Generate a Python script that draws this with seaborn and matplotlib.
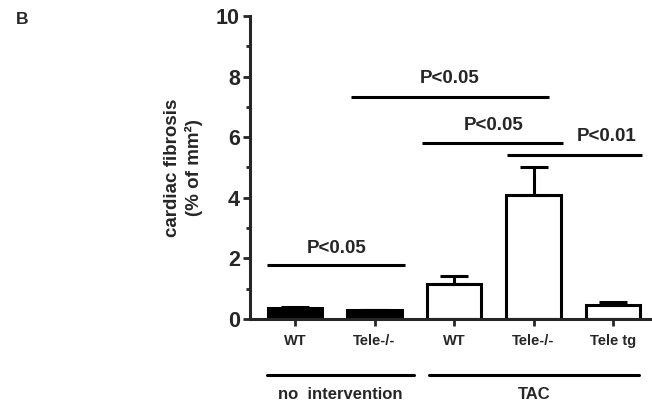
import matplotlib
matplotlib.use("Agg")
import matplotlib.pyplot as plt
from matplotlib.ticker import MultipleLocator
import seaborn as sns
import pandas as pd
import numpy as np

# bar data
groups = ["WT", "Tele-/-", "WT", "Tele-/-", "Tele tg"]
fibrosis = [0.36, 0.28, 1.14, 4.1, 0.46]
sem = [0.04, 0.03, 0.27, 0.93, 0.1]
fill_colors = ["black", "black", "white", "white", "white"]

# significance brackets: (left bar, right bar, height, label, label x, label y)
sig_lines = [
    (-0.35, 1.38, 1.78, "P<0.05", 0.52, 2.05),
    (0.7, 3.2, 7.34, "P<0.05", 1.94, 7.65),
    (1.6, 3.37, 5.8, "P<0.05", 2.5, 6.1),
    (2.66, 4.37, 5.41, "P<0.01", 3.92, 5.75),
]
bottom_groups = [("no  intervention", -0.35, 1.5), ("TAC", 1.69, 4.33)]

sns.set_style("ticks")
plt.rcParams["font.family"] = ["Liberation Sans", "DejaVu Sans"]
plt.rcParams["font.weight"] = "bold"

df = pd.DataFrame({"pos": [str(i) for i in range(len(groups))], "val": fibrosis})

fig = plt.figure(figsize=(6.52, 4.11), dpi=100)
ax = fig.add_axes([0.383, 0.224, 0.617, 0.737])

sns.barplot(data=df, x="pos", y="val", ax=ax, width=0.69,
            palette=fill_colors, hue="pos", legend=False,
            edgecolor="black", linewidth=2.2, saturation=1)

x = np.arange(len(groups))
ax.errorbar(x, fibrosis, yerr=[np.zeros(len(sem)), sem], fmt="none",
            ecolor="black", elinewidth=2.2, capsize=10, capthick=2.2)

ax.set_xlim(-0.57, 4.49)
ax.set_ylim(0, 10)
ax.yaxis.set_major_locator(MultipleLocator(2))
ax.yaxis.set_minor_locator(MultipleLocator(1))
ax.set_xticks(x)
ax.set_xticklabels(groups, fontsize=10.5, fontweight="bold")
ax.tick_params(axis="y", which="major", labelsize=15.5, width=2, length=5, pad=2)
ax.tick_params(axis="y", which="minor", width=2, length=3)
ax.tick_params(axis="x", width=2, length=5, pad=6)
for lbl in ax.get_yticklabels():
    lbl.set_fontweight("bold")
for s in ["left", "bottom"]:
    ax.spines[s].set_linewidth(2.2)
sns.despine(ax=ax)
ax.set_xlabel("")
ax.set_ylabel("cardiac fibrosis\n(% of mm²)", fontsize=13.5, fontweight="bold",
              labelpad=9, linespacing=1.3)

for x0, x1, h, txt, tx, ty in sig_lines:
    ax.plot([x0, x1], [h, h], color="black", lw=2.2, solid_capstyle="butt")
    ax.text(tx, ty, txt, ha="center", va="bottom", fontsize=13.5, fontweight="bold")

for txt, x0, x1 in bottom_groups:
    ax.plot([x0, x1], [-1.86, -1.86], color="black", lw=2.2, clip_on=False)
    ax.text((x0 + x1) / 2, -2.5, txt, ha="center", va="center",
            fontsize=12, fontweight="bold")

fig.text(0.025, 0.952, "B", fontsize=12.5, fontweight="bold", ha="left", va="center")

fig.savefig("out.png", dpi=100)
